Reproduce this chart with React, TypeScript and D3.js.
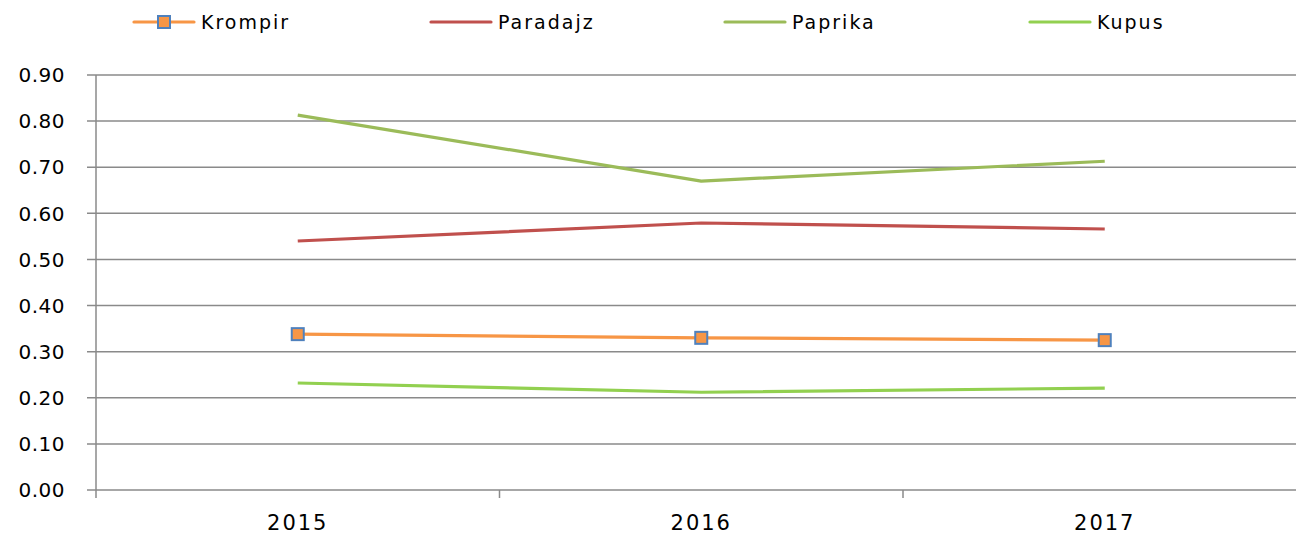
import React, { useRef, useEffect } from 'react';
import * as d3 from 'd3';

const years = ['2015', '2016', '2017'];
const yTicks = [0, 0.1, 0.2, 0.3, 0.4, 0.5, 0.6, 0.7, 0.8, 0.9];

const krompir = [0.338, 0.33, 0.325];
const paradajz = [0.54, 0.579, 0.566];
const paprika = [0.813, 0.67, 0.713];
const kupus = [0.232, 0.212, 0.221];

const seriesNames = ['Krompir', 'Paradajz', 'Paprika', 'Kupus'];
const seriesValues = [krompir, paradajz, paprika, kupus];
const seriesColors = ['#F79646', '#C0504D', '#9BBB59', '#92D050'];

const W = 1296;
const H = 537;
const FONT = '"DejaVu Sans", Verdana, sans-serif';

const App: React.FC = () => {
  const svgRef = useRef<SVGSVGElement>(null);

  useEffect(() => {
    if (!svgRef.current) return;
    d3.select(svgRef.current).selectAll('*').remove();

    const margin = { top: 75, left: 96, bottom: 47 };
    const plotH = H - margin.top - margin.bottom;
    const plotRight = 96 + 3 * 403.5;

    const svg = d3.select(svgRef.current);

    const x = d3.scaleBand().domain(years).range([margin.left, plotRight]);
    const y = d3.scaleLinear().domain([0, 0.9]).range([margin.top + plotH, margin.top]);

    // gridlines
    svg
      .append('g')
      .selectAll('line')
      .data(yTicks)
      .enter()
      .append('line')
      .attr('x1', margin.left - 9)
      .attr('x2', plotRight)
      .attr('y1', (d) => y(d))
      .attr('y2', (d) => y(d))
      .attr('stroke', '#8a8a8a')
      .attr('stroke-width', 1.5);

    // y labels
    svg
      .append('g')
      .selectAll('text')
      .data(yTicks)
      .enter()
      .append('text')
      .attr('x', 65)
      .attr('y', (d) => y(d))
      .attr('dy', '0.36em')
      .attr('text-anchor', 'end')
      .style('font-family', FONT)
      .style('font-size', '20px')
      .style('letter-spacing', '0.5px')
      .attr('fill', '#000')
      .text((d) => d.toFixed(2));

    // y axis line
    svg
      .append('line')
      .attr('x1', margin.left)
      .attr('x2', margin.left)
      .attr('y1', margin.top)
      .attr('y2', y(0) + 8)
      .attr('stroke', '#8a8a8a')
      .attr('stroke-width', 1.5);

    // x ticks
    const bounds = years.map((yr) => x(yr) || 0).slice(1);
    svg
      .append('g')
      .selectAll('line')
      .data(bounds)
      .enter()
      .append('line')
      .attr('x1', (d) => d)
      .attr('x2', (d) => d)
      .attr('y1', y(0))
      .attr('y2', y(0) + 8)
      .attr('stroke', '#8a8a8a')
      .attr('stroke-width', 1.5);

    // x labels
    svg
      .append('g')
      .selectAll('text')
      .data(years)
      .enter()
      .append('text')
      .attr('x', (d) => (x(d) || 0) + x.bandwidth() / 2)
      .attr('y', 530)
      .attr('text-anchor', 'middle')
      .style('font-family', FONT)
      .style('font-size', '21px')
      .style('letter-spacing', '2px')
      .attr('fill', '#000')
      .text((d) => d);

    const line = d3
      .line<number>()
      .x((_, i) => (x(years[i]) || 0) + x.bandwidth() / 2)
      .y((d) => y(d));

    seriesValues.forEach((vals, si) => {
      svg
        .append('path')
        .datum(vals)
        .attr('d', line)
        .attr('fill', 'none')
        .attr('stroke', seriesColors[si])
        .attr('stroke-width', 3.2)
        .attr('stroke-linejoin', 'round');
    });

    // markers for Krompir
    svg
      .append('g')
      .selectAll('rect')
      .data(krompir)
      .enter()
      .append('rect')
      .attr('x', (_, i) => (x(years[i]) || 0) + x.bandwidth() / 2 - 6)
      .attr('y', (d) => y(d) - 6)
      .attr('width', 12)
      .attr('height', 12)
      .attr('fill', '#F79646')
      .attr('stroke', '#4F81BD')
      .attr('stroke-width', 2);

    // legend
    const legendX = [134, 431, 725, 1030];
    const legendY = 22;
    seriesNames.forEach((name, i) => {
      const g = svg.append('g').attr('transform', `translate(${legendX[i]}, ${legendY})`);
      g.append('line')
        .attr('x1', 0)
        .attr('x2', 60)
        .attr('y1', 0)
        .attr('y2', 0)
        .attr('stroke', seriesColors[i])
        .attr('stroke-width', 3.2)
        .attr('stroke-linecap', 'round');
      if (i === 0) {
        g.append('rect')
          .attr('x', 24)
          .attr('y', -6)
          .attr('width', 12)
          .attr('height', 12)
          .attr('fill', '#F79646')
          .attr('stroke', '#4F81BD')
          .attr('stroke-width', 2);
      }
      g.append('text')
        .attr('x', 67)
        .attr('y', 0)
        .attr('dy', '0.36em')
        .style('font-family', FONT)
        .style('font-size', '19px')
        .style('letter-spacing', '2px')
        .attr('fill', '#000')
        .text(name);
    });
  }, []);

  return (
    <svg
      ref={svgRef}
      width={W}
      height={H}
      style={{ position: 'absolute', left: 0, top: 0, background: '#fff' }}
    />
  );
};

export default App;
